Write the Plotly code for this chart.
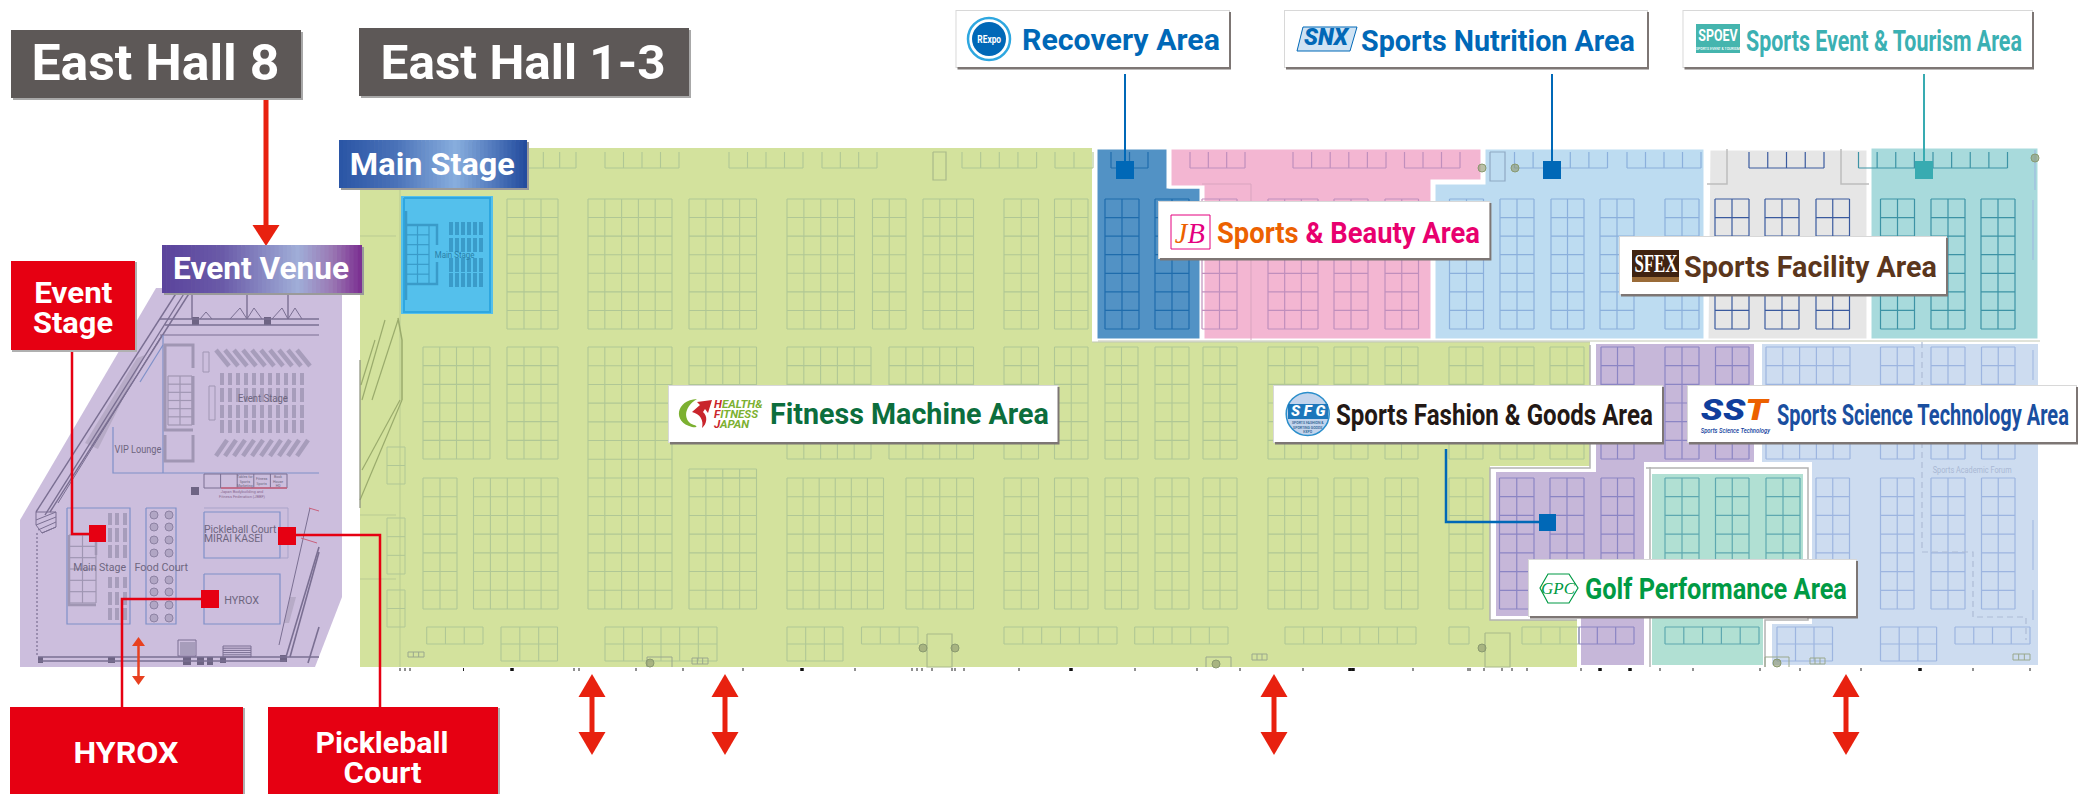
import json, re
import plotly.graph_objects as go

W, H = 2087, 794
FONT = "Roboto"

# ---------- zones of the hall (floor-plan coordinates) ----------
HALL_BASE = [(360,148),(1092,148),(1092,342),(1590,342),(1590,466),(1490,466),(1490,620),(1577,620),(1577,667),(360,667)]
ZONES = {
    "recovery": ("#5292c5", [(1096,148),(1168,148),(1168,187),(1201,187),(1201,340),(1096,340)]),
    "beauty":   ("#f3b6d2", [(1170,148),(1482,148),(1482,181),(1432,181),(1432,340),(1203,340),(1203,187),(1170,187)]),
    "nutrition":("#bddcf1", [(1484,148),(1705,148),(1705,340),(1434,340),(1434,183),(1484,183)]),
    "facility": ("#e6e6e6", [(1709,149),(1868,149),(1868,340),(1707,340)]),
    "tourism":  ("#a8dadc", [(1870,147),(2039,147),(2039,340),(1870,340)]),
    "fashion":  ("#c6b7d9", [(1594,342),(1756,342),(1756,464),(1646,464),(1646,667),(1579,667),(1579,618),(1494,618),(1494,470),(1594,470)]),
    "golf":     ("#b1e0d3", [(1650,472),(1805,472),(1805,618),(1765,618),(1765,667),(1650,667)]),
    "science":  ("#cddcf0", [(1760,342),(2040,342),(2040,667),(1770,667),(1770,622),(1810,622),(1810,464),(1760,464)]),
}
EVENT_HALL = [(156,288),(342,288),(342,597),(315,667),(20,667),(20,520)]

# ---------- booth blocks: (x0, x1, columns) per row ----------
ROW_A = (199,329,7); ROW_B = (347,459,6); ROW_C = (478,609,7)
GREEN_A = [(507,558,3),(588,672,5),(689,756.5,4),(787,854.5,4),(872.5,906,2),(923,973.5,3),(1004,1038.5,2),(1054.5,1088,2)]
GREEN_B = [(423,490,4),(507,558,3),(787,871,5),(889,973.5,5),(1004,1038.5,2),(1054.5,1088,2),(1105,1138,2),(1155,1189,2),
           (1203,1237,2),(1268,1318,3),(1334,1368,2),(1385,1418,2),(1449,1483,2),(1500,1534,2),(1550,1584,2)]
GREEN_C = [(423,457,2),(473.5,558,5),(689,756.5,4),(787,883.5,6),(906,973.5,4),(1004,1038.5,2),(1054.5,1088,2),(1105,1138,2),
           (1155,1189,2),(1203,1237,2),(1268,1318,3),(1334,1368,2),(1385,1418,2),(1449,1483,2)]
GREEN_TALL = [(588,672,5,347,609,14),(689,756.5,4,347,441,5),(689,756.5,4,469,478,1)]
GREEN_D = [(426.7,483,3,627,644,1),(501,557.5,3,627,661,2),(605,717,6,627,661,2),(787,843,3,627,661,2),(861.5,918,3,627,644,1),
           (1004,1117,6,627,644,1),(1134.7,1228,5,627,644,1),(1285,1416,7,627,644,1),(1449,1469,1,627,644,1),(1522,1579,3,627,644,1)]
REC_A = [(1105,1139,2),(1155,1189,2)]
BEAUTY_A = [(1202,1237,2),(1268,1318,3),(1334,1368,2),(1385,1418.5,2)]
NUTR_A = [(1449.5,1483.5,2),(1500,1534,2),(1551,1584,2),(1600,1634,2),(1665,1699,2)]
FAC_A = [(1715,1749,2),(1765,1799,2),(1816,1849.5,2)]
TOUR_A = [(1880.5,1914.5,2),(1931,1965,2),(1981,2015,2)]
FASH_B = [(1601,1634,2),(1665,1699,2),(1715.5,1749,2)]
FASH_C = [(1499.5,1534,2),(1550,1584,2),(1601,1634,2)]
FASH_D = [(1579,1634,3,627,644,1)]
GOLF_C = [(1665,1699,2),(1715.5,1749,2),(1766,1800,2)]
GOLF_D = [(1665,1759,5,627,644,1)]
SCI_B = [(1766,1850,5),(1880.5,1914,2),(1931,1965,2),(1981.5,2015,2)]
SCI_C = [(1816,1849.5,2),(1880.5,1914,2),(1931,1965,2),(1981.5,2015,2)]
SCI_D = [(1777,1832.5,3,627,661,2),(1880.5,1936.6,3,627,661,2),(1955,2030,4,627,644,1)]

# ---------- open strip of booths along the top wall ----------
TOP_Y = (152,168)
TOP_GREEN = [(527,576,3),(605,679,4),(729,803,4),(822,877,3),(962,1036.6,4),(1055,1093,2)]
TOP_REC = [(1111,1148,2)]
TOP_BEAUTY = [(1190,1245,3),(1293,1386,5),(1404.5,1460,3)]
TOP_NUTR = [(1514.5,1607.5,5),(1627,1701,4)]
TOP_FAC = [(1749,1824,4)]
TOP_TOUR = [(1858.5,2007.5,8)]

BOOTH_COLORS = {"green":"#b0c795","rec":"#1f6cac","beauty":"#c08fbd","nutr":"#8bb0dc","fac":"#3a5a9e",
                "tour":"#3d93a5","fash":"#8b85c4","golf":"#5ea8b0","sci":"#9db5e0"}

# ---------- bottom wall ticks ----------
TICKS = [400,405,410,463.5,574,579,636,683,743,855,955,912,917,922,932,952,964,1019,1135,1197,1240,1303,1350,1413,1468,1502,1600,1660,1470,1484,1512,1527,1581,1693,1760,1800,1861,1973,2030]
THICK_TICKS = [512,802,1071,1350,1353,1600,1630,1920]

# ---------- labels ----------
HALL_TITLES = [("East Hall 8",11,30,301,98,155,63,248),("East Hall 1-3",359,28,689,96,523,62,285)]
RED_BOXES = [(11,261,135,350),(10,707,243,794),(268,707,498,794)]
RED_TEXT = [("Event",73,292,78),("Stage",73,322,80),("HYROX",126,752,105),("Pickleball",382,742,133),("Court",382,772,78)]
VENUE_TEXT = [("VIP Lounge",138,449,"center",47),("Event Stage",263,398,"center",50),("Main Stage",99,567,"center",53),("Food Court",161,567,"center",54),
              ("Pickleball Court",203,529,"left",73),("MIRAI KASEI",203,538,"left",59),("HYROX",242,600,"center",35)]
BIG_ARROWS_X = [592,725,1274,1846]

shapes, notes, traces = [], [], []
fits = {}

def poly(pts):
    return "M " + " L ".join(f"{x},{y}" for x,y in pts) + " Z"

def rect(x0,y0,x1,y1,fill="rgba(0,0,0,0)",line=None,lw=0,layer="above"):
    shapes.append(dict(type="rect",x0=x0,y0=y0,x1=x1,y1=y1,fillcolor=fill,layer=layer,
                       line=dict(color=line or "rgba(0,0,0,0)",width=lw)))

def path(d,fill="rgba(0,0,0,0)",line=None,lw=0,layer="above"):
    shapes.append(dict(type="path",path=d,fillcolor=fill,layer=layer,line=dict(color=line or "rgba(0,0,0,0)",width=lw)))

def circle(cx,cy,r,fill,line=None,lw=0,ry=None,layer="above"):
    ry = ry or r
    shapes.append(dict(type="circle",x0=cx-r,x1=cx+r,y0=cy-ry,y1=cy+ry,fillcolor=fill,layer=layer,
                       line=dict(color=line or "rgba(0,0,0,0)",width=lw)))

def seg(x0,y0,x1,y1,color,lw=2):
    shapes.append(dict(type="line",x0=x0,y0=y0,x1=x1,y1=y1,layer="above",line=dict(color=color,width=lw)))

def text(t,x,y,size,color,anchor="center",weight=500,family=FONT,fit=None):
    notes.append(dict(text=t,x=x,y=y,xref="x",yref="y",showarrow=False,xanchor=anchor,yanchor="middle",borderpad=0,
                      align="center" if anchor=="center" else "left",
                      font=dict(family=family,size=size,color=color,weight=weight)))
    if fit:
        plain = re.sub(r"<[^>]+>","",t).replace("&amp;","&")
        fits[f"{plain}|{size}"] = fit

def lines(segs,color,width=1,dash=None,opacity=1):
    xs,ys=[],[]
    for s in segs:
        for p in s:
            xs.append(p[0]); ys.append(p[1])
        xs.append(None); ys.append(None)
    traces.append(go.Scatter(x=xs,y=ys,mode="lines",hoverinfo="skip",showlegend=False,opacity=opacity,
                             line=dict(color=color,width=width,dash=dash)))

def grid(x0,x1,cols,y0,y1,rows):
    out=[]
    for c in range(cols+1):
        x=x0+(x1-x0)*c/cols
        out.append([(x,y0),(x,y1)])
    for r in range(rows+1):
        y=y0+(y1-y0)*r/rows
        out.append([(x0,y),(x1,y)])
    return out

def row(blocks,rw):
    out=[]
    for x0,x1,c in blocks:
        out+=grid(x0,x1,c,*rw)
    return out

def top(blocks):
    y0,y1=TOP_Y
    out=[]
    for x0,x1,c in blocks:
        for i in range(c+1):
            x=x0+(x1-x0)*i/c
            out.append([(x,y0),(x,y1)])
        out.append([(x0,y1),(x1,y1)])
    return out

def full(blocks):
    out=[]
    for b in blocks:
        out+=grid(*b)
    return out

def gradient(x0,y0,x1,y1,stops,n=48):
    def hx(c): return [int(c[i:i+2],16) for i in (1,3,5)]
    for i in range(n):
        t=(i+.5)/n
        for (a,ca),(b,cb) in zip(stops,stops[1:]):
            if a<=t<=b:
                f=(t-a)/(b-a)
                c=[round(p+(q-p)*f) for p,q in zip(hx(ca),hx(cb))]
                break
        xa=x0+(x1-x0)*i/n; xb=x0+(x1-x0)*(i+1)/n+.6
        rect(xa,y0,min(xb,x1),y1,fill=f"rgb({c[0]},{c[1]},{c[2]})")

def card(x0,y0,x1,y1):
    rect(x0-1,y0-1,x1+1,y1+1,fill="#d8d8d8")
    rect(x0+1,y0+1,x1+2,y1+2.5,fill="#7d7674")
    rect(x0,y0,x1,y1,fill="#ffffff")

def dbl_arrow(x,y0,y1,hw,hh,lw,color):
    seg(x,y0+hh,x,y1-hh,color,lw)
    path(poly([(x,y0),(x+hw,y0+hh),(x-hw,y0+hh)]),fill=color)
    path(poly([(x,y1),(x+hw,y1-hh),(x-hw,y1-hh)]),fill=color)

# ---------- backgrounds ----------
path(poly(EVENT_HALL),fill="#ccbedd",layer="below")
path(poly(HALL_BASE),fill="#d3e29d",layer="below")
for name,(col,pts) in ZONES.items():
    path(poly(pts),fill=col,line="#ffffff",lw=3 if name in("recovery","beauty","nutrition","facility","tourism") else 4,layer="below")

# ---------- booths ----------
lines(row(GREEN_A,ROW_A)+row(GREEN_B,ROW_B)+row(GREEN_C,ROW_C)+full(GREEN_TALL)+full(GREEN_D)+top(TOP_GREEN),BOOTH_COLORS["green"],1.1)
lines(row(REC_A,ROW_A)+top(TOP_REC),BOOTH_COLORS["rec"],1.2)
lines(row(BEAUTY_A,ROW_A)+top(TOP_BEAUTY),BOOTH_COLORS["beauty"],1.2)
lines(row(NUTR_A,ROW_A)+top(TOP_NUTR),BOOTH_COLORS["nutr"],1.2)
lines(row(FAC_A,ROW_A)+top(TOP_FAC),BOOTH_COLORS["fac"],1.2)
lines(row(TOUR_A,ROW_A)+top(TOP_TOUR),BOOTH_COLORS["tour"],1.2)
lines(row(FASH_B,ROW_B)+row(FASH_C,ROW_C)+full(FASH_D),BOOTH_COLORS["fash"],1.2)
lines(row(GOLF_C,ROW_C)+full(GOLF_D),BOOTH_COLORS["golf"],1.2)
lines(row(SCI_B,ROW_B)+row(SCI_C,ROW_C)+full(SCI_D),BOOTH_COLORS["sci"],1.2)

# zone edge / wall details
lines([[(1092,342),(1590,342)],[(1098,341),(2040,341)]],"#c2c7b4",1)
lines([[(1590,345),(1590,468),(1490,468),(1490,620),(1577,620)],[(1646,468),(1808,468),(1808,620),(1765,620),(1765,667)],[(1650,467),(1650,667)]],"#b3b3b3",1.5)
lines([[(1727,149),(1727,184),(1707,184)],[(1841,149),(1841,184),(1869,184)]],"#bdbdbd",1.5)
lines([[(1202,184),(1251,184),(1251,340)]],"#d9a4bf",1)
lines([[(1922,342),(1922,552),(1973,552),(1973,617),(2026,617),(2026,640)]],"#aebcd6",1.2,dash="6px,4px")
lines([[(2035,150),(2035,190)],[(2033,200),(2033,260)],[(2033,350),(2033,380)],[(2033,520),(2033,570)],[(2033,590),(2033,620)]],"#9db5e0",1)

# left wall of the hall
lines([[(400,188),(400,667)],[(360,236),(396,236)],[(360,515),(396,515)],[(360,579),(396,579)]],"#b9cb92",1)
lines([[(402,400),(360,500)],[(400,400),(362,470)],[(398,320),(372,400)],[(385,320),(362,400)],[(375,340),(361,385)]],"#9aab6c",1.2)
lines([[(398,318),(402,340),(402,400)]],"#9aab6c",1.5)
lines([[(360,360),(360,508)]],"#8a8f7c",1.2)
lines(grid(387,405,1,447,484,2)+grid(387,405,1,518,574,3)+grid(387,405,1,590,627,2),BOOTH_COLORS["green"],1)

# utility cores
CORES = [(927,952,634,667,"#a9b98a"),(1485,1510,633,667,"#a9b98a"),(933,946,152,180,"#a9b98a"),(1490,1505,152,181,"#8fa9c4")]
for a,b,c,d,col in CORES:
    lines([[(a,c),(a,d),(b,d),(b,c),(a,c)]],col,1.2)
SMALL_3 = [(408,424,652,657),(692,708,658,664),(1252,1267,654,660),(1810,1825,658,664),(2013,2030,654,660)]
s3=[]
for a,b,c,d in SMALL_3:
    s3+=grid(a,b,3,c,d,1)
lines(s3,"#9aa88d",1)
BOTTOM_BOXES=[(647,672,657,667),(1206,1231,657,667),(1765,1789,657,667)]
lines([[(a,d),(a,c),(b,c),(b,d)] for a,b,c,d in BOTTOM_BOXES],"#9aa88d",1)
traces.append(go.Scatter(x=[923,955,1482,1515,2035,650,1216,1777,1482],y=[648,648,168,168,158,663,664,663,648],mode="markers",hoverinfo="skip",showlegend=False,
                         marker=dict(size=8,color="rgba(140,150,110,.6)",line=dict(color="#8a9a70",width=1))))
lines([[(x,668),(x,671)] for x in TICKS],"#222222",1)
lines([[(x,668),(x,671)] for x in THICK_TICKS],"#111111",3.5)

# ---------- main stage room ----------
rect(401,196,493,314,fill="#54c0ec",layer="below")
lines([[(404,198),(490,198),(490,312),(404,312),(404,198)]],"#2ea7e0",2)
lines(grid(406,429,2,225,284,6),"#3a9bc9",1.2)
lines([[(406,211),(406,300)],[(406,225),(437,225),(437,245)],[(406,284),(437,284),(437,262)]],"#3a9bc9",2.5)
MS_SEAT_X=[451,457,463,469,475,481]
MS_SEAT_Y=[(222,235),(238,252),(258,272),(273,287)]
lines([[(x,a),(x,b)] for x in MS_SEAT_X for a,b in MS_SEAT_Y],"#3a9bc9",4)
text("Main Stage",454,255,9,"#2a7fa8",weight=400,fit=40)

# ---------- event hall details ----------
DARK="#7a6f92"; MID="#a096b3"; BLUE="#7f90c8"
path(poly([(145,355),(98,449),(85,443),(137,358)]),fill="rgba(165,155,180,.55)",layer="below")
path(poly([(290,597),(296,597),(289,623),(284,623)]),fill="rgba(165,155,180,.55)",layer="below")
lines([[(177,292),(36,512)],[(185,292),(45,515)],[(190,292),(50,512)]],DARK,1.4)
lines([[(162,335),(58,503)],[(160,335),(319,335)]],DARK,1)
lines([[(160,319),(319,319)],[(165,325),(319,325)],[(192,293),(192,319)],[(247,293),(247,319)],[(288,293),(288,319)]],DARK,1.4)
lines([[(230,319),(240,308),(247,319),(254,308),(262,319)],[(272,319),(282,308),(288,319),(295,308),(302,319)],[(200,319),(206,312),(212,319)]],DARK,1)
lines([[(163,345),(140,382)],[(113,427),(113,473),(319,473)],[(163,335),(163,473)]],BLUE,1.2)
lines([[(193,368),(193,345),(165,345),(165,430),(193,430)],[(165,435),(165,461),(193,461),(193,435)]],MID,3)
lines(grid(168,192,2,376,425,6),MID,1.2)
lines([[(193,376),(193,425)]],MID,3)
E_SEAT_X=[222,230,238,246,254,262,270,278,286,294,302]
E_SEAT_Y=[(373,385),(388,402),(405,418),(420,433)]
lines([[(x,a),(x,b)] for x in E_SEAT_X for a,b in E_SEAT_Y],"#a79dbb",4)
E_SLANT_TOP=[216,225,234,243,252,261,270,279,288,297]
lines([[(x,350),(x+13,366)] for x in E_SLANT_TOP],"#a79dbb",4.5)
lines([[(x,456),(x+11,440)] for x in E_SLANT_TOP],"#a79dbb",4.5)
lines([[(203,352),(209,352),(209,372),(203,372),(203,352)],[(209,386),(215,386),(215,420),(209,420),(209,386)]],MID,1)
lines([[(67,508),(130,508),(130,624),(67,624),(67,508)],[(146,508),(176,508),(176,624),(146,624),(146,508)],
       [(204,512),(280,512),(280,558),(204,558),(204,512)],[(204,574),(280,574),(280,624),(204,624),(204,574)]],BLUE,1.2)
lines([[(204,508),(288,508),(288,558),(280,558)]],"#a9a3c9",1)
lines(grid(69,96,2,535,603,6),MID,1.2)
lines([[(69,535),(69,605),(96,605)],[(96,535),(96,555)]],MID,2.5)
S_X=[110,117,125]; S_Y=[(513,525),(528,542),(545,558),(577,588),(592,605),(608,620)]
lines([[(x,a),(x,b)] for x in S_X for a,b in S_Y],"#a79dbb",4)
traces.append(go.Scatter(x=[154,169]*8,y=[y for y in [515,527,540,553,580,592,605,618] for _ in (0,1)],mode="markers",hoverinfo="skip",showlegend=False,
                         marker=dict(size=8,color="rgba(170,160,190,.8)",line=dict(color="#8d82a3",width=1))))
lines(grid(204,287,5,474,488,1),DARK,1)
lines([[(221,488),(287,488)]],"#c9607c",1.6)
rect(191,487,199,495,fill="#6e6484",layer="below")
rect(192,317,199,325,fill="#6e6484",layer="below")
rect(264,317,271,325,fill="#6e6484",layer="below")
lines([[(279,645),(310,508)]],DARK,1)
lines([[(309,508),(319,511)],[(301,538),(317,543)]],"#c9607c",1)
lines([[(319,547),(286,657)],[(319,552),(290,657)],[(319,627),(308,663)]],DARK,1.6)
lines([[(38,657),(319,657)],[(38,661),(286,661)]],DARK,1.6)
lines([[(37,533),(37,657)]],DARK,1.2,dash="2px,2px")
lines([[(36,520),(56,512)],[(36,525),(56,517)],[(38,530),(56,522)],[(42,533),(56,527)],[(36,512),(56,512),(56,527),(42,533),(36,525),(36,512)]],DARK,1)
lines(grid(223,251,1,646,657,5)+[[(178,640),(196,640),(196,656),(178,656),(178,640)]],DARK,1)
rect(180,642,195,655,fill="#a79dbb",layer="below")
for a,b,c,d in [(38,43,657,663),(108,115,657,663),(183,191,657,665),(197,204,657,665),(207,213,657,665),(220,226,657,663),(280,287,655,662)]:
    rect(a,c,b,d,fill="#6e6484",layer="below")
for t,x,y,a,fw in VENUE_TEXT:
    text(t,x,y,11,"#6e6680",anchor=a,weight=400,fit=fw)
for t,x,y in [("Tables for<br>Sports<br>Marketing",245,481),("Fitness<br>Sports",262,481),("Book<br>House<br>HD",278,481)]:
    text(t,x,y,3.5,"#6e6680",weight=400)
text("Japan Bodybuilding and<br>Fitness Federation (JBBF)",242,494,4,"#8a6a90",weight=400)
text("Sports Academic Forum",1972,469,9.5,"#a9b8d4",weight=400,fit=79)

# ---------- area connectors ----------
BLUE2="#0068b7"; TEAL="#38abb1"; RED="#e60012"; ARROW="#e8210f"
for x,c in [(1125,BLUE2),(1552,BLUE2),(1924,TEAL)]:
    seg(x,74,x,165,c,2)
    rect(x-9,161,x+9,179,fill=c)
shapes.append(dict(type="path",path="M 1446,449 L 1446,522 L 1548,522",layer="above",line=dict(color=BLUE2,width=2.5),fillcolor="rgba(0,0,0,0)"))
rect(1539,514,1556,531,fill=BLUE2)

# red connectors
for d in ["M 72,350 L 72,534 L 90,534","M 296,535 L 380,535 L 380,707","M 202,599 L 122,599 L 122,707"]:
    shapes.append(dict(type="path",path=d,layer="above",line=dict(color=RED,width=2.5),fillcolor="rgba(0,0,0,0)"))
rect(89,525,106,542,fill=RED)
rect(278,527,296,545,fill=RED)
rect(201,590,219,608,fill=RED)

# arrows
seg(266,98,266,228,ARROW,5)
path(poly([(266,246),(252.5,225),(279.5,225)]),fill=ARROW)
dbl_arrow(138.5,637,685,6.5,9,2.5,"#e8401f")
for x in BIG_ARROWS_X:
    dbl_arrow(x,674,755,13.5,23,5,ARROW)

# ---------- hall titles ----------
for t,x0,y0,x1,y1,tx,ty,fw in HALL_TITLES:
    rect(x0+2,y0+2,x1+2,y1+2,fill="#a8a8a8")
    rect(x0,y0,x1,y1,fill="#5d5857")
    text(t,tx,ty,49,"#ffffff",weight=700,fit=fw)

# gradient tags
rect(341,142,529,190,fill="#9a9a9a")
gradient(339,140,527,188,[(0,"#2a55a5"),(.3,"#4a72b8"),(.62,"#88aede"),(.85,"#4a72b8"),(1,"#20499c")])
text("Main Stage",432,164,32,"#ffffff",weight=700,fit=165)
rect(164,247,364,295,fill="#9a9a9a")
gradient(162,245,362,293,[(0,"#5a439c"),(.3,"#6a5aa8"),(.68,"#a0aed8"),(.85,"#9a78b4"),(1,"#7a2d90")])
text("Event Venue",261,268,32,"#ffffff",weight=700,fit=176)

for x0,y0,x1,y1 in RED_BOXES:
    rect(x0+1,y0+1,x1+2,y1+2,fill="#b0b0b0")
    rect(x0,y0,x1,y1,fill=RED)
for t,tx,ty,fw in RED_TEXT:
    text(t,tx,ty,30,"#ffffff",weight=700,fit=fw)

# ---------- area cards ----------
# Recovery
card(956.5,11,1229,67)
circle(989,39,21,"rgba(0,0,0,0)",line="#2ea7e0",lw=2.5)
circle(989,39,17,BLUE2)
text("RExpo",989,39,10,"#ffffff",weight=700,fit=24)
text("Recovery Area",1021,40,29,BLUE2,anchor="left",weight=700,fit=198)
# Nutrition
card(1285,11,1647,67)
path(poly([(1303,27),(1357,27),(1350,51),(1297,51)]),fill="#cfe3f4",line=BLUE2,lw=1)
text("<i>SNX</i>",1327,37,23,BLUE2,weight=900,fit=46)
text("Sports Nutrition Area",1360,40,30,BLUE2,anchor="left",weight=700,fit=274)
# Event & tourism
card(1683.5,11,2032,67)
rect(1696,24,1740,53,fill="#45b5ae")
text("SPOEV",1718,35,17,"#ffffff",weight=700,fit=40)
text("SPORTS EVENT & TOURISM",1718,49,3.5,"#ffffff")
text("Sports Event & Tourism Area",1745,40,30,"#3bb0b3",anchor="left",weight=700,fit=276)
# Beauty
card(1159,202,1489.4,258)
rect(1171,215,1210,249,fill="#ffffff",line="#e4007f",lw=1)
text("<i><span style='color:#ec6100'>J</span>B</i>",1190,232,30,"#e4007f",weight=400,family="Liberation Serif",fit=30)
text("<span style='color:#ec6100'>Sports</span> <span style='color:#e8006e'>&amp; Beauty Area</span>",1216,232,30,"#e4007f",anchor="left",weight=700,fit=263)
# Facility
card(1620,237,1946,294)
rect(1632,250,1679,282,fill="#3f2311")
rect(1632,277,1679,282,fill="#9a6b38")
text("SFEX",1655.5,263,25,"#ffffff",weight=700,family="Liberation Serif",fit=43)
text("Sports Facility Area",1683,266,30,"#5b361c",anchor="left",weight=700,fit=253)
# Fashion
card(1274,386,1662,442)
circle(1307.7,414,21.5,"#c3d4ec",line="#2a8ecb",lw=1.5)
rect(1288,404,1328,419,fill="#1d77bb")
text("<i>S F G</i>",1308,411,15,"#ffffff",weight=900)
text("SPORTS FASHION &<br>SPORTING GOODS<br>EXPO",1308,427,3.5,"#245a8c")
text("Sports Fashion &amp; Goods Area",1335,414,30,"#231815",anchor="left",weight=700,fit=317)
# Science
card(1688,386,2076,442)
text("<i><span style='color:#0f3e9c'>SS</span><span style='color:#ec6100'>T</span></i>",1735,409.5,30,"#0f3e9c",weight=900,fit=70)
text("<i>Sports Science Technology</i>",1735,431,7,"#0f3e9c",fit=70)
text("Sports Science Technology Area",1776,414,30,"#1a4fa0",anchor="left",weight=700,fit=292)
# Golf
card(1529,560,1856,616)
path(poly([(1540,588),(1548,574),(1569,574),(1578,588),(1569,603),(1548,603)]),fill="#ffffff",line="#009a44",lw=1.2)
text("<i>GPC</i>",1558.6,588,17,"#009a44",weight=400,family="Liberation Serif")
text("Golf Performance Area",1584,588,30,"#009a44",anchor="left",weight=700,fit=262)
# Fitness
card(669,386,1057.5,442)
path("M 697,399 C 676,400 672,422 692,427 C 697,428 698,426 694,425 C 684,422 682,408 697,399 Z",fill="#7cb031")
path("M 692,412 L 700,405 L 697,402 L 712,400 L 708,413 L 705,409 L 703,412 C 708,416 707,424 702,428 C 704,420 700,414 692,412 Z",fill="#c9252c")
for t,y in [("<i><span style='color:#c9252c'>H</span>EALTH&amp;</i>",404),("<i><span style='color:#c9252c'>F</span>ITNESS</i>",414),("<i><span style='color:#c9252c'>J</span>APAN</i>",423.5)]:
    text(t,713,y,11.5,"#7cb031",anchor="left",weight=700)
text("Fitness Machine Area",769,414,29,"#0c6e3d",anchor="left",weight=700,fit=279)

fig = go.Figure(traces)
fig.update_layout(width=W,height=H,margin=dict(l=0,r=0,t=0,b=0),paper_bgcolor="#ffffff",plot_bgcolor="#ffffff",
                  showlegend=False,shapes=shapes,annotations=notes,hovermode=False,
                  xaxis=dict(range=[0,W],visible=False,fixedrange=True),
                  yaxis=dict(range=[H,0],visible=False,fixedrange=True))

# the reference's lettering is condensed: squeeze each label horizontally to its measured width
POST = """
document.body.style.margin='0';document.body.style.overflow='hidden';
var FITS = %s;
document.querySelectorAll('.annotation-text').forEach(function(t){
  var k = t.textContent + '|' + parseFloat(t.style.fontSize);
  var w = FITS[k];
  if(!w) return;
  var b = t.getBBox();
  var s = w / b.width;
  var cx = t.getAttribute('text-anchor')==='start' ? b.x : b.x + b.width/2;
  t.setAttribute('transform','translate('+cx+' 0) scale('+s+' 1) translate('+(-cx)+' 0)');
});
""" % json.dumps(fits)
fig.write_html("out.html",config=dict(displayModeBar=False,responsive=False),post_script=POST)
